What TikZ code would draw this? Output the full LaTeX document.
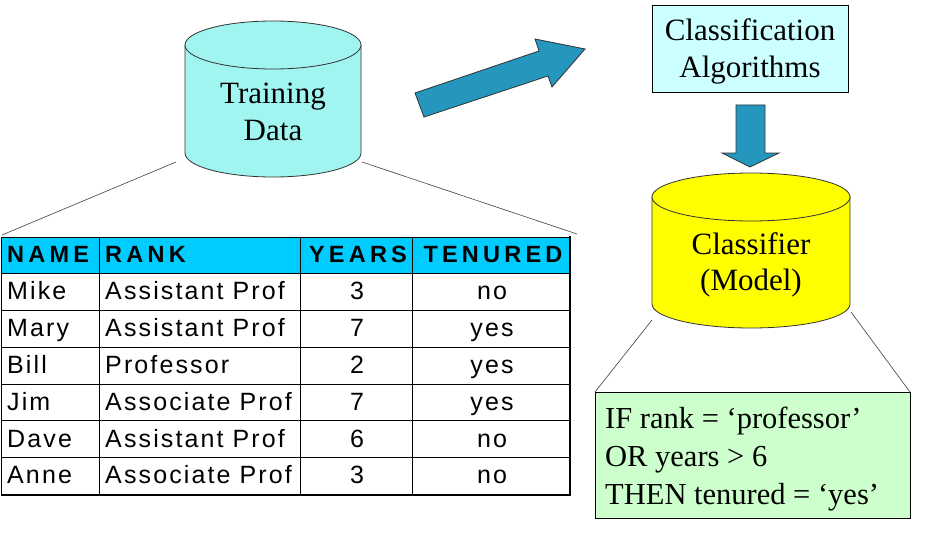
\documentclass[tikz,border=0pt]{standalone}
\usepackage{fontspec}
\setmainfont{Liberation Serif}
\newfontfamily\tabfont[LetterSpace=8.5]{Liberation Sans}
\newfontfamily\tabheadfont[LetterSpace=18]{Liberation Sans}
\definecolor{tdcyan}{HTML}{A0F5F0}
\definecolor{algbox}{HTML}{CCFFFF}
\definecolor{rulebox}{HTML}{CCFFCC}
\definecolor{headblue}{HTML}{00CCFF}
\definecolor{arrowblue}{HTML}{2596BE}
\definecolor{modelyellow}{HTML}{FFFF00}
\begin{document}
\begin{tikzpicture}[x=1pt,y=-1pt,
  serifbig/.style={font=\fontsize{31}{36}\selectfont, inner sep=0pt},
  cylline/.style={draw=black!80, line width=0.8pt},
  thinline/.style={draw=black!75, line width=0.6pt},
  blockarrow/.style={fill=arrowblue, draw=black!80, line width=0.8pt, line join=miter},
  cell/.style={font=\tabfont\fontsize{25}{28}\selectfont, inner sep=0pt, anchor=base west},
  ccell/.style={font=\tabfont\fontsize{25}{28}\selectfont, inner sep=0pt, anchor=base},
  hcell/.style={font=\tabheadfont\bfseries\fontsize{23.5}{27}\selectfont, inner sep=0pt, anchor=base west},
  hccell/.style={font=\tabheadfont\bfseries\fontsize{23.5}{27}\selectfont, inner sep=0pt, anchor=base},
  ruletext/.style={font=\fontsize{30.5}{36}\selectfont, inner sep=0pt, anchor=base west}]
\useasboundingbox (0,0) rectangle (931,559);
\fill[white] (0,0) rectangle (931,559);

% ---------- Training Data cylinder ----------
\path[fill=tdcyan, cylline] (185,45) -- (185,153)
  arc[start angle=180, end angle=360, x radius=88pt, y radius=24pt] -- (361,45) -- cycle;
\draw[fill=tdcyan, cylline] (273,45) ellipse [x radius=88pt, y radius=24pt];
\node[serifbig, anchor=base] (tdA) at (273,103) {Training};
\node[serifbig, anchor=base] (tdB) at (273,140) {Data};
\coordinate (tdL) at (176,162);
\coordinate (tdR) at (362,162);

% ---------- Big diagonal arrow ----------
\draw[blockarrow] (424,117) -- (415,93) -- (539,51) -- (535,39) -- (585,49)
  -- (552,87) -- (548,76) -- cycle;

% ---------- Classification Algorithms box ----------
\draw[fill=algbox, draw=black, line width=0.8pt] (652,5) rectangle (848,92);
\node[serifbig, anchor=base] (algA) at (750,41) {Classification};
\node[serifbig, anchor=base] (algB) at (750,78) {Algorithms};

% ---------- Down arrow ----------
\draw[blockarrow] (736,105) -- (765,105) -- (765,153) -- (779,153) -- (750,167)
  -- (722,153) -- (736,153) -- cycle;

% ---------- Classifier cylinder ----------
\path[fill=modelyellow, cylline] (652,197) -- (652,304)
  arc[start angle=180, end angle=360, x radius=99pt, y radius=24pt] -- (850,197) -- cycle;
\draw[fill=modelyellow, cylline] (751,197) ellipse [x radius=99pt, y radius=24pt];
\node[serifbig, anchor=base] (clA) at (751,254) {Classifier};
\node[serifbig, anchor=base] (clB) at (751,290) {(Model)};
\coordinate (clL) at (652,320);
\coordinate (clR) at (851,312);

% ---------- Rule box ----------
\draw[fill=rulebox, draw=black, line width=0.8pt] (595,392) rectangle (910,518);
\coordinate (rbL) at (595,392);
\coordinate (rbR) at (910,392);
\node[ruletext] (r1) at (605,428) {IF rank = ‘professor’};
\node[ruletext] (r2) at (605,466) {OR years > 6};
\node[ruletext] (r3) at (605,504) {THEN tenured = ‘yes’};
\draw[thinline] (clL) -- (rbL);
\draw[thinline] (clR) -- (rbR);

% ---------- Table ----------
\fill[headblue] (1,237) rectangle (570,273);
\coordinate (tbL) at (2,235);
\coordinate (tbR) at (577,234);
\draw[thinline] (tdL) -- (tbL);
\draw[thinline] (tdR) -- (tbR);
% horizontal lines
\foreach \yy in {273,310,347,384,420,457}
  \draw[black, line width=0.8pt] (1,\yy) -- (570,\yy);
% vertical lines
\foreach \xx in {99,300,412}
  \draw[black, line width=0.8pt] (\xx,237) -- (\xx,494);
\draw[black, line width=0.8pt] (1,237) -- (570,237);
\draw[black, line width=0.8pt] (1,237) -- (1,494);
\draw[black, line width=2pt] (570,236) -- (570,495) -- (0.5,495);

% header
\node[hcell] (hN) at (7,262) {NAME};
\node[hcell] (hR) at (105,262) {RANK};
\node[hccell] (hY) at (358,262) {YEARS};
\node[hccell] (hT) at (493,262) {TENURED};

% body
\foreach \nm/\rk/\yr/\tn [count=\i] in {Mike/Assistant Prof/3/no, Mary/Assistant Prof/7/yes,
    Bill/Professor/2/yes, Jim/Associate Prof/7/yes, Dave/Assistant Prof/6/no,
    Anne/Associate Prof/3/no} {
  \pgfmathsetmacro{\bl}{273+\i*36.83-10}
  \node[cell] (n\i) at (7,\bl) {\nm};
  \node[cell] (k\i) at (105,\bl) {\rk};
  \node[ccell] (y\i) at (357,\bl) {\yr};
  \node[ccell] (t\i) at (492,\bl) {\tn};
}
\end{tikzpicture}
\end{document}
